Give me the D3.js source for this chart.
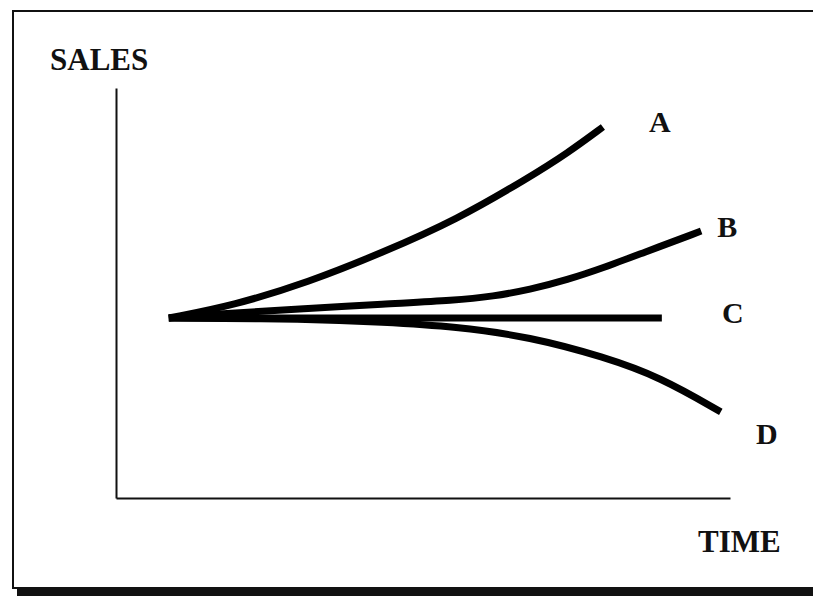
<!DOCTYPE html>
<html>
<head>
<meta charset="utf-8">
<script src="https://cdn.jsdelivr.net/npm/d3@7"></script>
<style>
  html, body { margin: 0; padding: 0; background: #fff; overflow: hidden; }
  svg { display: block; }
  text { font-family: "Liberation Serif", "Times New Roman", serif; font-weight: bold; fill: #111; }
</style>
</head>
<body>
<svg id="chart" width="813" height="596"></svg>
<script>
// Sales paths over time for four scenarios (arbitrary units)
const seriesNames = ["A", "B", "C", "D"];
const timeA  = [0.86, 1.92, 3.13, 4.33, 5.54, 6.74, 7.35, 7.93];
const salesA = [4.39, 4.70, 5.26, 5.98, 6.78, 7.83, 8.41, 9.05];
const timeB  = [0.86, 1.92, 3.13, 4.33, 5.54, 6.14, 6.74, 7.35, 7.95, 8.55, 9.53];
const salesB = [4.39, 4.52, 4.62, 4.73, 4.82, 4.92, 5.08, 5.32, 5.62, 5.96, 6.51];
const timeC  = [0.86, 8.89];
const salesC = [4.39, 4.39];
const timeD  = [0.86, 3.13, 4.33, 5.54, 6.74, 7.95, 8.86, 9.85];
const salesD = [4.39, 4.37, 4.29, 4.18, 3.93, 3.44, 2.95, 2.10];
const axisTitles = ["SALES", "TIME"];

const svg = d3.select("#chart");
const W = 813, H = 596;

// frame around the figure, heavier along the bottom; right edge runs off the page
svg.append("rect")
  .attr("x", 13).attr("y", 11).attr("width", W + 40).attr("height", 577)
  .attr("fill", "none").attr("stroke", "#111").attr("stroke-width", 2);
svg.append("rect")
  .attr("x", 17).attr("y", 589).attr("width", W).attr("height", 7)
  .attr("fill", "#111");

const x = d3.scaleLinear().domain([0, 10]).range([116, 730]);
const y = d3.scaleLinear().domain([0, 10]).range([498, 88]);

// bare axes: domain lines only
svg.append("g")
  .attr("transform", `translate(0,${y(0)})`)
  .call(d3.axisBottom(x).tickValues([]).tickSizeOuter(0))
  .call(g => g.select(".domain").attr("stroke", "#111").attr("stroke-width", 2));
svg.append("g")
  .attr("transform", `translate(${x(0)},0)`)
  .call(d3.axisLeft(y).tickValues([]).tickSizeOuter(0))
  .call(g => g.select(".domain").attr("stroke", "#111").attr("stroke-width", 2));

svg.append("text").attr("x", 50).attr("y", 70)
  .attr("font-size", 31).text(axisTitles[0]);
svg.append("text").attr("x", 698).attr("y", 552)
  .attr("font-size", 31).text(axisTitles[1]);

const series = [
  { name: seriesNames[0], t: timeA, s: salesA, dx: 57, dy: 5 },
  { name: seriesNames[1], t: timeB, s: salesB, dx: 26, dy: 6 },
  { name: seriesNames[2], t: timeC, s: salesC, dx: 71, dy: 5 },
  { name: seriesNames[3], t: timeD, s: salesD, dx: 46, dy: 32 }
];

const line = d3.line()
  .x(d => x(d[0]))
  .y(d => y(d[1]))
  .curve(d3.curveBasis);

series.forEach(sr => {
  const pts = sr.t.map((t, i) => [t, sr.s[i]]);
  svg.append("path")
    .datum(pts)
    .attr("d", line)
    .attr("fill", "none")
    .attr("stroke", "#000")
    .attr("stroke-width", 7)
    .attr("stroke-linecap", "butt");
  const last = pts[pts.length - 1];
  svg.append("text")
    .attr("x", x(last[0]) + sr.dx)
    .attr("y", y(last[1]) + sr.dy)
    .attr("text-anchor", "middle")
    .attr("font-size", 30)
    .text(sr.name);
});
</script>
</body>
</html>
